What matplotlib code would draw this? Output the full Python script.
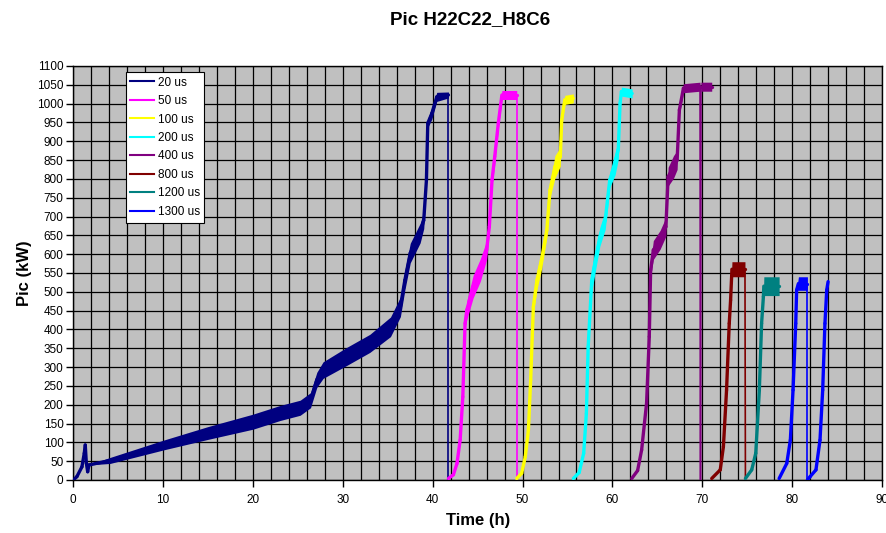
import matplotlib
matplotlib.use("Agg")
import matplotlib.pyplot as plt
import numpy as np
from matplotlib.collections import LineCollection
from matplotlib.ticker import MultipleLocator

plt.rcParams['font.family'] = ['Liberation Sans', 'DejaVu Sans']

# ---- data ----
labels = ["20 us", "50 us", "100 us", "200 us", "400 us", "800 us", "1200 us", "1300 us"]
colors = ["#000080", "#FF00FF", "#FFFF00", "#00FFFF", "#800080", "#800000", "#008080", "#0000FF"]

x_20 = [0, 0.4, 0.96, 1.22, 1.33, 1.45, 1.6, 1.74, 4.1, 10.05, 15, 20, 23.0, 25.25, 26.4, 27.1,
        27.8, 30.4, 33.0, 35.3, 36.4, 36.9, 37.5, 38.6, 39.0, 39.3, 39.45, 39.9, 40.45, 41.75, 41.75]
y_20 = [0, 9, 35, 71, 93, 45, 22, 40, 52, 93, 125, 155, 178, 192, 212, 266,
        292, 328, 363, 407, 460, 531, 603, 656, 690, 797, 948, 974, 1018, 1023, 0]
n_20 = [0, 0, 0, 0, 0, 0, 0, 0, 8, 13, 17, 20, 20, 20, 20, 20,
        22, 24, 24, 26, 26, 26, 26, 26, 22, 15, 12, 15, 12, 8, 0]

x_50 = [41.75, 42.3, 42.7, 43.05, 43.35, 43.6, 43.8, 44.5, 45.3, 46.0, 46.3, 46.6, 46.9, 47.3, 47.7, 49.35, 49.35]
y_50 = [4, 14, 44, 106, 221, 416, 452, 514, 558, 611, 673, 797, 859, 948, 1023, 1023, 0]
n_50 = [0, 0, 0, 0, 0, 10, 25, 30, 30, 25, 15, 15, 20, 15, 12, 12, 0]

x_100 = [49.35, 49.9, 50.3, 50.65, 50.9, 51.2, 51.6, 52.1, 52.7, 53.05, 53.6, 54.2, 54.35, 54.7, 55.65]
y_100 = [4, 18, 62, 133, 266, 460, 531, 584, 664, 770, 832, 859, 956, 1010, 1014]
n_100 = [0, 0, 0, 0, 0, 15, 25, 25, 20, 20, 30, 25, 10, 12, 12]

x_200 = [55.65, 56.3, 56.8, 57.1, 57.3, 57.7, 57.9, 58.6, 59.2, 59.7, 60.3, 60.65, 60.85, 61.0, 62.2]
y_200 = [4, 20, 71, 177, 354, 531, 558, 646, 691, 797, 841, 877, 1001, 1032, 1027]
n_200 = [0, 0, 0, 0, 0, 30, 30, 25, 25, 20, 30, 25, 10, 12, 12]

x_400 = [62.15, 62.8, 63.25, 63.8, 64.1, 64.25, 64.55, 65.3, 65.95, 66.2, 66.8, 67.2, 67.45, 67.9,
         69.75, 69.8, 69.85, 71.05]
y_400 = [4, 25, 80, 204, 381, 558, 611, 638, 673, 806, 832, 850, 983, 1041,
         1045, 0, 1045, 1045]
n_400 = [0, 0, 0, 0, 0, 20, 25, 25, 25, 25, 30, 25, 12, 12, 12, 0, 12, 12]

x_800 = [71.05, 72.0, 72.35, 72.7, 73.0, 73.15, 73.3, 74.75, 74.8]
y_800 = [4, 27, 89, 239, 416, 478, 560, 560, 0]
n_800 = [0, 0, 0, 0, 0, 0, 20, 20, 0]

x_1200 = [74.8, 75.5, 75.95, 76.35, 76.6, 76.8, 76.85, 78.55]
y_1200 = [4, 27, 71, 239, 416, 487, 515, 515]
n_1200 = [0, 0, 0, 0, 0, 0, 25, 25]

x_1300 = [78.55, 79.4, 79.8, 80.1, 80.4, 80.5, 80.7, 81.7, 81.7, 82.0, 82.65, 83.1, 83.4, 83.65, 83.85, 84.0]
y_1300 = [4, 44, 106, 239, 416, 505, 522, 522, 0, 9, 27, 106, 239, 416, 505, 527]
n_1300 = [0, 0, 0, 0, 0, 0, 18, 18, 0, 0, 0, 0, 0, 0, 0, 10]

series_x = [x_20, x_50, x_100, x_200, x_400, x_800, x_1200, x_1300]
series_y = [y_20, y_50, y_100, y_200, y_400, y_800, y_1200, y_1300]
series_n = [n_20, n_50, n_100, n_200, n_400, n_800, n_1200, n_1300]

x_ticks = list(range(0, 91, 10))
y_ticks = list(range(0, 1101, 50))

# ---- figure ----
fig = plt.figure(figsize=(8.86, 5.33), dpi=100)
ax = fig.add_axes([73.3 / 886, 1 - 480 / 533, (882 - 73.3) / 886, (480 - 66) / 533])
ax.set_facecolor("#C0C0C0")

ax.set_xlim(0, 90)
ax.set_ylim(0, 1100)
ax.set_xticks(x_ticks)
ax.xaxis.set_minor_locator(MultipleLocator(2))
ax.set_yticks(y_ticks)
ax.grid(True, which="both", axis="x", color="black", linewidth=0.9)
ax.grid(True, which="major", axis="y", color="black", linewidth=0.9)
ax.set_axisbelow(True)
ax.tick_params(axis="x", which="major", direction="out", length=5, width=1, labelsize=8.5, pad=5)
ax.tick_params(axis="x", which="minor", length=0)
ax.tick_params(axis="y", direction="out", length=5, width=1, labelsize=8.5, pad=2)
for s in ax.spines.values():
    s.set_color("black")
    s.set_linewidth(1)

for xs, ys, ns, c, lab in zip(series_x, series_y, series_n, colors, labels):
    xs = np.asarray(xs, float)
    ys = np.asarray(ys, float)
    ns = np.asarray(ns, float)
    # noise band
    ax.fill_between(xs, ys - ns, ys + ns, color=c, linewidth=0, zorder=3)
    # trace: thin for instant trips, thicker for the noisy trace
    segs = np.stack([np.column_stack([xs[:-1], ys[:-1]]), np.column_stack([xs[1:], ys[1:]])], axis=1)
    dx = np.diff(xs)
    dy = np.diff(ys)
    steep = np.abs(dy) > 3000 * np.maximum(dx, 1e-9)
    lws = np.where(steep, 1.2, 2.4)
    lc = LineCollection(segs, colors=c, linewidths=lws, capstyle="round", joinstyle="round", zorder=4)
    ax.add_collection(lc)
    ax.plot([], [], color=c, linewidth=1.5, label=lab)

leg = ax.legend(loc="upper left", bbox_to_anchor=(0.0648, 0.986), borderaxespad=0,
                fontsize=8.5, frameon=True, fancybox=False, edgecolor="black", framealpha=1,
                handlelength=2.0, labelspacing=0.55, borderpad=0.4, handletextpad=0.3)
leg.get_frame().set_linewidth(0.8)
leg.get_frame().set_facecolor("white")
leg.set_zorder(10)

ax.set_xlabel("Time (h)", fontsize=12, fontweight="bold", labelpad=5)
ax.set_ylabel("Pic (kW)", fontsize=12, fontweight="bold", labelpad=3.5)
fig.text(0.53, 0.964, "Pic H22C22_H8C6", fontsize=13.5, fontweight="bold", ha="center", va="center")

fig.savefig("out.png", dpi=100)
